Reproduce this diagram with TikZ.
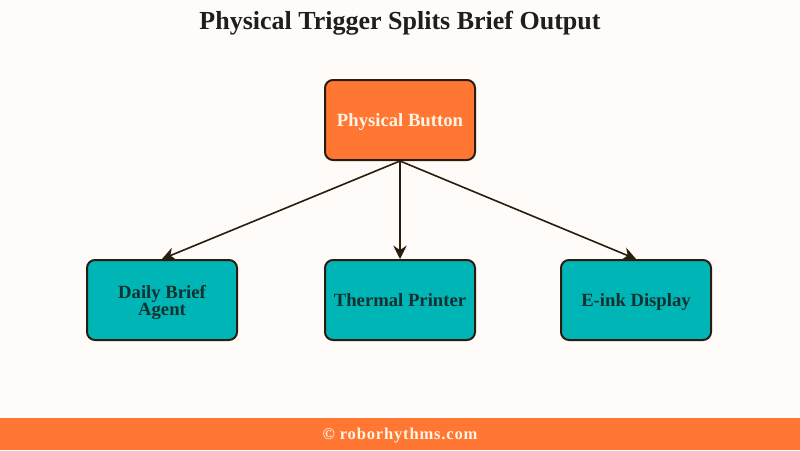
\documentclass[tikz,border=0pt]{standalone}
\usepackage{fontspec}
\setmainfont{Liberation Serif}
\usetikzlibrary{arrows.meta}
\definecolor{bg}{HTML}{FFFBF8}
\definecolor{orng}{HTML}{FF7733}
\definecolor{teal2}{HTML}{00B5B5}
\definecolor{edge}{HTML}{2B1D0E}
\definecolor{cream}{HTML}{FFF3E3}
\definecolor{darktxt}{HTML}{143030}
\definecolor{titletxt}{HTML}{1E1E1E}
\newcommand{\lowline}[1]{\raisebox{-2.2pt}[9pt][3pt]{#1}}
\tikzset{
  box/.style={draw=edge, line width=1.5pt, rounded corners=6pt, minimum width=112.5pt, minimum height=60pt, inner sep=0pt, align=center, font=\bfseries\fontsize{14}{12.8}\selectfont},
  topbox/.style={box, fill=orng, text=cream},
  outbox/.style={box, fill=teal2, text=darktxt},
  conn/.style={draw=edge, line width=1.2pt, -{Stealth[length=10pt,width=10pt]}}
}
\begin{document}
\begin{tikzpicture}[x=0.75pt,y=-0.75pt]
\fill[bg] (0,0) rectangle (800,450);
\useasboundingbox (0,0) rectangle (800,450);
\fill[orng] (0,418) rectangle (800,450);
\node[text=titletxt, font=\bfseries\fontsize{19.5}{20}\selectfont] (title) at (400,23) {Physical Trigger Splits Brief Output};
\node[topbox] (btn) at (400,120) {\lowline{Physical Button}};
\node[outbox] (agent) at (162,300) {\lowline{Daily Brief}\\\lowline{Agent}};
\node[outbox] (printer) at (400,300) {\lowline{Thermal Printer}};
\node[outbox] (eink) at (636,300) {\lowline{E-ink Display}};
\draw[conn] (btn.south) -- (agent.north);
\draw[conn] (btn.south) -- (printer.north);
\draw[conn] (btn.south) -- (eink.north);
\node[text=cream, font=\bfseries\fontsize{12.4}{13}\selectfont] (foot) at (400,436) {\addfontfeature{LetterSpace=5}© roborhythms.com};
\end{tikzpicture}
\end{document}
